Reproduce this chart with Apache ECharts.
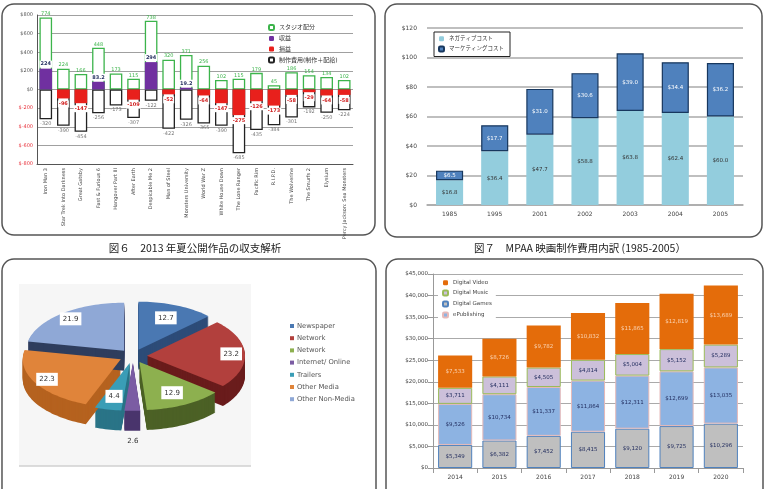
<!DOCTYPE html>
<html lang="ja">
<head>
<meta charset="UTF-8">
<title>chart</title>
<style>
html,body{margin:0;padding:0;width:100%;height:100%;background:#fff;}
#main{width:767px;height:489px;}
</style>
</head>
<body>
<div id="main"></div>
<script src="https://cdn.jsdelivr.net/npm/echarts/dist/echarts.min.js"></script>
<script>
// 図6 2013年夏公開作品
var films = ['Iron Man 3', 'Star Trek Into Darkness', 'Great Gatsby', 'Fast & Furious 6', 'Hangover Part III',
	'After Earth', 'Despicable Me 2', 'Man of Steel', 'Monsters University', 'World War Z', 'White House Down',
	'The Lone Ranger', 'Pacific Rim', 'R.I.P.D.', 'The Wolverine', 'The Smurfs 2', 'Elysium', 'Percy Jackson: Sea Monsters'];
var studioShare = [774, 224, 166, 448, 173, 115, 738, 320, 371, 256, 102, 115, 179, 45, 186, 154, 134, 102];
var profit = [224, null, null, 83.2, null, null, 294, null, 19.2, null, null, null, null, null, null, null, null, null];
var loss = [null, -96, -147, null, null, -109, null, -52, null, -64, -147, -275, -126, -173, -58, -29, -64, -58];
var cost = [-320, -390, -454, -256, -173, -307, -122, -422, -326, -365, -390, -685, -435, -384, -301, -192, -250, -224];

// 図7 MPAA
var mpaaYears = ['1985', '1995', '2001', '2002', '2003', '2004', '2005'];
var negativeCost = [16.8, 36.4, 47.7, 58.8, 63.8, 62.4, 60.0];
var marketingCost = [6.5, 17.7, 31.0, 30.6, 39.0, 34.4, 36.2];

// pie
var pieNames = ['Newspaper', 'Network', 'Network', 'Internet/ Online', 'Trailers', 'Other Media', 'Other Non-Media'];
var pieValues = [12.7, 23.2, 12.9, 2.6, 4.4, 22.3, 21.9];

// digital media
var digYears = ['2014', '2015', '2016', '2017', '2018', '2019', '2020'];
var digGames = [5349, 6382, 7452, 8415, 9120, 9725, 10296];
var ePublishing = [9526, 10734, 11337, 11864, 12311, 12699, 13035];
var digMusic = [3711, 4111, 4505, 4814, 5004, 5152, 5289];
var digVideo = [7533, 8726, 9782, 10832, 11865, 12819, 13689];

var pieTop = ['#4a78b2', '#b2403d', '#8db04f', '#7b5ca3', '#3a9db6', '#e0843a', '#8fa8d6'];
var pieSide = ['#2d4c78', '#6a1c1c', '#4c6126', '#4a356c', '#2a7487', '#b5621f', '#2f3e5e'];

var pieTotal = pieValues.reduce(function (a, b) { return a + b; }, 0);
var pieStart = [];
var acc = 0;
pieValues.forEach(function (v) { pieStart.push(acc); acc += v; });

function money(v) {
	return '$' + Number(v).toLocaleString('en-US');
}

function renderSlice(params, api) {
	var i = params.dataIndex;
	var v = api.value(0);
	var a0 = pieStart[i] / pieTotal * Math.PI * 2;
	var a1 = a0 + v / pieTotal * Math.PI * 2;
	var am = (a0 + a1) / 2;
	var cx = 133, cy = 356, rx = 98, ry = 48, depth = 20, ex = 14;
	var ox = ex * Math.sin(am), oy = -ex * Math.cos(am) * ry / rx;
	function face(dy) {
		var pts = [[cx + ox, cy + oy + dy]];
		var n = Math.max(2, Math.ceil((a1 - a0) / 0.03));
		for (var k = 0; k <= n; k++) {
			var a = a0 + (a1 - a0) * k / n;
			pts.push([cx + ox + rx * Math.sin(a), cy + oy + dy - ry * Math.cos(a)]);
		}
		return pts;
	}
	var children = [];
	for (var d = depth; d > 0; d--) {
		children.push({type: 'polygon', shape: {points: face(d)}, style: {fill: pieSide[i]}, z2: 1});
	}
	children.push({type: 'polygon', shape: {points: face(0)}, style: {fill: pieTop[i]}, z2: 5});
	var lx, ly, box = true;
	if (v < 3) {
		lx = cx + ox;
		ly = cy + oy + ry + depth + 10;
		box = false;
	} else {
		var rl = v > 20 ? 0.86 : 0.72;
		lx = cx + ox + rl * rx * Math.sin(am);
		ly = cy + oy - rl * ry * Math.cos(am);
	}
	children.push({
		type: 'text', x: lx, y: ly, z2: 10,
		style: {
			text: String(v), fill: '#333', fontSize: 7, fontFamily: 'DejaVu Sans',
			align: 'center', verticalAlign: 'middle',
			backgroundColor: box ? '#fff' : 'transparent', padding: [3, 3]
		}
	});
	return {type: 'group', children: children};
}

var legendGroup = pieNames.map(function (name, i) {
	return {
		type: 'group', x: 290, y: 324 + i * 12.2,
		children: [
			{type: 'rect', shape: {x: 0, y: 0, width: 4, height: 4}, style: {fill: pieTop[i]}},
			{type: 'text', x: 7, y: 2, style: {text: name, fill: '#555', fontSize: 6.8, fontFamily: 'DejaVu Sans', verticalAlign: 'middle'}}
		]
	};
});

var panelStyle = {fill: 'none', stroke: '#555', lineWidth: 1.5};

var chart = echarts.init(document.getElementById('main'));
var option = {
	animation: false,
	textStyle: {fontFamily: 'DejaVu Sans, Noto Sans CJK JP'},
	title: [
		{text: '図６　2013 年夏公開作品の収支解析', left: 190, top: 238, textAlign: 'center',
			textStyle: {fontSize: 10.5, fontWeight: 'normal', color: '#222', fontFamily: 'Noto Sans CJK JP'}},
		{text: '図７　MPAA 映画制作費用内訳 (1985-2005）', left: 575, top: 238, textAlign: 'center',
			textStyle: {fontSize: 10.5, fontWeight: 'normal', color: '#222', fontFamily: 'Noto Sans CJK JP'}}
	],
	graphic: [
		{type: 'rect', silent: true, shape: {x: 2, y: 4, width: 373, height: 231, r: 12}, style: panelStyle},
		{type: 'rect', silent: true, shape: {x: 385, y: 4, width: 377, height: 233, r: 12}, style: panelStyle},
		{type: 'rect', silent: true, shape: {x: 2, y: 259, width: 374, height: 260, r: 12}, style: panelStyle},
		{type: 'rect', silent: true, shape: {x: 386, y: 259, width: 377, height: 260, r: 12}, style: panelStyle},
		{type: 'rect', silent: true, z: -10, shape: {x: 19, y: 284, width: 232, height: 182}, style: {fill: '#f6f6f6'}},
		{type: 'line', silent: true, shape: {x1: 19, y1: 466, x2: 251, y2: 466}, style: {stroke: '#d0d0d0', lineWidth: 1.5}}
	].concat(legendGroup),
	legend: [
		{data: ['スタジオ配分', '収益', '損益', '制作費用(制作＋配給)'], orient: 'vertical', left: 263, top: 19,
			itemWidth: 5, itemHeight: 5, itemGap: 4.5, textStyle: {fontSize: 6, color: '#333'}},
		{data: ['ネガティブコスト', 'マーケティングコスト'], orient: 'vertical', left: 434, top: 32,
			borderColor: '#222', borderWidth: 1, padding: [4, 6, 4, 4], itemGap: 4,
			itemWidth: 5, itemHeight: 5, textStyle: {fontSize: 5.5, color: '#333'}},
		{data: ['Digital Video', 'Digital Music', 'Digital Games', 'ePublishing'], orient: 'vertical', left: 438, top: 278,
			backgroundColor: '#fff', padding: [2, 4, 2, 4], itemGap: 4, itemWidth: 5, itemHeight: 5,
			textStyle: {fontSize: 5.5, color: '#444'}}
	],
	grid: [
		{left: 37, top: 15, width: 316, height: 149},
		{left: 427, top: 28, width: 316, height: 177},
		{left: 433, top: 274, width: 310, height: 194}
	],
	xAxis: [
		{gridIndex: 0, type: 'category', data: films,
			axisLine: {onZero: false, lineStyle: {color: '#555'}}, axisTick: {show: false},
			axisLabel: {rotate: 90, interval: 0, fontSize: 5, color: '#444', margin: 4}},
		{gridIndex: 1, type: 'category', data: mpaaYears,
			axisLine: {lineStyle: {color: '#aaa', width: 1.5}}, axisTick: {show: false},
			axisLabel: {fontSize: 6, color: '#444', margin: 6}},
		{gridIndex: 2, type: 'category', data: digYears,
			axisLine: {lineStyle: {color: '#999'}}, axisTick: {show: true, lineStyle: {color: '#999'}},
			axisLabel: {fontSize: 6, color: '#444', margin: 6}}
	],
	yAxis: [
		{gridIndex: 0, type: 'value', min: -800, max: 800, interval: 200,
			axisLine: {show: true, lineStyle: {color: '#555'}}, axisTick: {show: false},
			splitLine: {lineStyle: {color: '#a0a0a0', width: 1.2}},
			axisLabel: {fontSize: 5, margin: 4, formatter: function (v) { return '$' + v; },
				color: function (v) { return Number(v) < 0 ? '#e8303a' : '#555'; }}},
		{gridIndex: 1, type: 'value', min: 0, max: 120, interval: 20,
			axisLine: {show: false}, axisTick: {show: false},
			splitLine: {lineStyle: {color: '#aaa', width: 1.5}},
			axisLabel: {fontSize: 6, color: '#444', margin: 10, formatter: function (v) { return '$' + v; }}},
		{gridIndex: 2, type: 'value', min: 0, max: 45000, interval: 5000,
			axisLine: {show: true, lineStyle: {color: '#999'}}, axisTick: {show: true, lineStyle: {color: '#999'}},
			splitLine: {lineStyle: {color: '#aaa', width: 1.2}},
			axisLabel: {fontSize: 5.5, color: '#444', margin: 5, formatter: money}}
	],
	series: [
		{name: 'スタジオ配分', type: 'bar', xAxisIndex: 0, yAxisIndex: 0, data: studioShare,
			barWidth: '72%', barGap: '-100%',
			itemStyle: {color: '#fff', borderColor: '#3cb44b', borderWidth: 1.3},
			label: {show: true, position: 'top', distance: 1, fontSize: 5, color: '#3cb44b'}},
		{name: '制作費用(制作＋配給)', type: 'bar', xAxisIndex: 0, yAxisIndex: 0, data: cost,
			barWidth: '72%', barGap: '-100%',
			itemStyle: {color: '#fff', borderColor: '#222', borderWidth: 1.3},
			label: {show: true, position: 'bottom', distance: 2, fontSize: 5, color: '#777'}},
		{name: '収益', type: 'bar', xAxisIndex: 0, yAxisIndex: 0, data: profit,
			barWidth: '72%', barGap: '-100%',
			itemStyle: {color: '#7030a0'},
			label: {show: true, position: 'top', distance: 1, fontSize: 5, fontWeight: 'bold', color: '#1f2a5c',
				backgroundColor: '#fff', padding: [1, 1]}},
		{name: '損益', type: 'bar', xAxisIndex: 0, yAxisIndex: 0, data: loss,
			barWidth: '72%', barGap: '-100%',
			itemStyle: {color: '#e8201c'},
			label: {show: true, position: 'bottom', distance: 2, fontSize: 5, fontWeight: 'bold', color: '#d02020',
				backgroundColor: '#fff', padding: [1, 1]}},

		{name: 'ネガティブコスト', type: 'bar', xAxisIndex: 1, yAxisIndex: 1, stack: 'mpaa', data: negativeCost,
			barWidth: '60%', itemStyle: {color: '#93cddd'},
			label: {show: true, position: 'inside', fontSize: 5.5, color: '#333',
				formatter: function (p) { return '$' + p.value.toFixed(1); }}},
		{name: 'マーケティングコスト', type: 'bar', xAxisIndex: 1, yAxisIndex: 1, stack: 'mpaa', data: marketingCost,
			barWidth: '60%', itemStyle: {color: '#4f81bd', borderColor: '#17375e', borderWidth: 1.2},
			label: {show: true, position: 'inside', fontSize: 5.5, color: '#fff',
				formatter: function (p) { return '$' + p.value.toFixed(1); }}},

		{name: 'Digital Games', type: 'bar', xAxisIndex: 2, yAxisIndex: 2, stack: 'dig', data: digGames,
			barWidth: '77%', itemStyle: {color: '#bfbfbf', borderColor: '#4f81bd', borderWidth: 1},
			label: {show: true, position: 'inside', fontSize: 5.5, color: '#1f2a5c',
				formatter: function (p) { return money(p.value); }}},
		{name: 'ePublishing', type: 'bar', xAxisIndex: 2, yAxisIndex: 2, stack: 'dig', data: ePublishing,
			barWidth: '77%', itemStyle: {color: '#8db3e2', borderColor: '#e6b9b8', borderWidth: 1},
			label: {show: true, position: 'inside', fontSize: 5.5, color: '#1f2a5c',
				formatter: function (p) { return money(p.value); }}},
		{name: 'Digital Music', type: 'bar', xAxisIndex: 2, yAxisIndex: 2, stack: 'dig', data: digMusic,
			barWidth: '77%', itemStyle: {color: '#ccc0da', borderColor: '#9bbb59', borderWidth: 1},
			label: {show: true, position: 'inside', fontSize: 5.5, color: '#1f2a5c',
				formatter: function (p) { return money(p.value); }}},
		{name: 'Digital Video', type: 'bar', xAxisIndex: 2, yAxisIndex: 2, stack: 'dig', data: digVideo,
			barWidth: '77%', itemStyle: {color: '#e46c0a'},
			label: {show: true, position: 'inside', fontSize: 5.5, color: '#fbd4b4',
				formatter: function (p) { return money(p.value); }}},

		{name: 'pie', type: 'custom', coordinateSystem: 'none', renderItem: renderSlice,
			data: pieValues.map(function (v) { return [v]; })}
	]
};
chart.setOption(option);
</script>
</body>
</html>
